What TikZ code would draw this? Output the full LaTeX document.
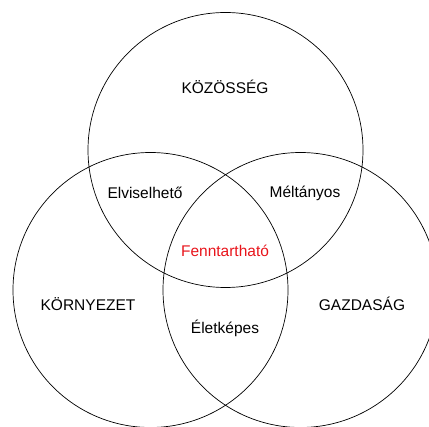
\documentclass[tikz,border=0pt]{standalone}
\usepackage{fontspec}
\setmainfont{Liberation Sans}
\usepackage{xcolor}
\usetikzlibrary{positioning}
\definecolor{SustainRed}{HTML}{E8141B}

\begin{document}
\begin{tikzpicture}[
    x=1pt, y=-1pt,
    ring/.style={draw=black, line width=0.7pt},
    label/.style={font=\fontsize{15.5}{18}\selectfont, text=black, inner sep=0pt},
    core/.style={label, text=SustainRed}
]
    \useasboundingbox (0,0) rectangle (429,427);
    \clip (0,0) rectangle (429,427);

    % Circle centres
    \coordinate (ctop)   at (225.5,150);
    \coordinate (cleft)  at (150.5,290);
    \coordinate (cright) at (300.5,290);

    % Three circles
    \draw[ring] (ctop) circle[radius=137.5];
    \draw[ring] (cleft) circle[radius=137.5];
    \draw[ring] (cright) circle[radius=137.5];

    % Labels
    \node[label] (kozosseg) at (225,87) {KÖZÖSSÉG};
    \node[label] (kornyezet) at (88,304) {KÖRNYEZET};
    \node[label] (gazdasag) at (362,304) {GAZDASÁG};
    \node[label] (elviselheto) at (145,193) {Elviselhető};
    \node[label] (meltanyos) at (305,193) {Méltányos};
    \node[label] (eletkepes) at (225,328) {Életképes};
    \node[core] (fenntarthato) at (225,251) {Fenntartható};
\end{tikzpicture}
\end{document}
